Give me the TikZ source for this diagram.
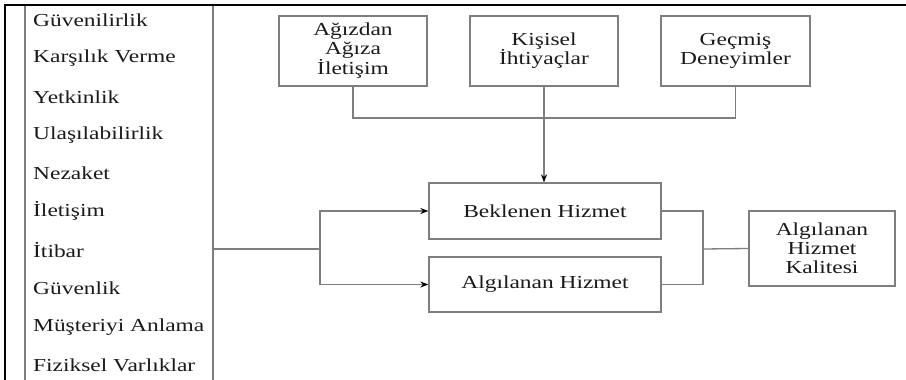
\documentclass[tikz,border=0pt]{standalone}
\usepackage{fontspec}
\setmainfont[FakeStretch=1.28]{Liberation Serif}
\usetikzlibrary{arrows.meta}
\definecolor{linegray}{HTML}{7E7E7E}
\definecolor{txt}{HTML}{1A1A1A}
\begin{document}
\begin{tikzpicture}[x=1pt,y=1pt,
  box/.style={draw=linegray, line width=1.3pt, align=center, text=txt, inner sep=0pt,
    font=\fontsize{18.3}{19}\selectfont},
  item/.style={anchor=west, inner sep=0pt, text=txt, font=\fontsize{18.3}{19}\selectfont},
  conn/.style={draw=linegray, line width=1.3pt},
  arr/.style={conn, -{Stealth[length=8pt,width=6pt,color=black]}},
  frame/.style={draw=black, line width=2.4pt}]
\useasboundingbox (0,0) rectangle (906,-380);
% frame
\draw[frame] (5,-380) -- (5,-5) -- (906,-5);
% list box sides
\draw[conn] (25,-6) -- (25,-380);
\draw[conn] (213,-6) -- (213,-380);
% list items
\node[item] (i1) at (33,-20) {Güvenilirlik};
\node[item] (i2) at (33,-58.5) {Karşılık Verme};
\node[item] (i3) at (33,-97) {Yetkinlik};
\node[item] (i4) at (33,-135) {Ulaşılabilirlik};
\node[item] (i5) at (33,-173) {Nezaket};
\node[item] (i6) at (33,-211) {İletişim};
\node[item] (i7) at (33,-250) {İtibar};
\node[item] (i8) at (33,-288) {Güvenlik};
\node[item] (i9) at (33,-327) {Müşteriyi Anlama};
\node[item] (i10) at (33,-365) {Fiziksel Varlıklar};
% top boxes
\node[box, minimum width=148pt, minimum height=70pt] (agiz) at (353,-51) {Ağızdan\\Ağıza\\İletişim};
\node[box, minimum width=148pt, minimum height=70pt] (kis) at (544,-51) {Kişisel\\İhtiyaçlar};
\node[box, minimum width=149pt, minimum height=70pt] (gec) at (735.5,-51) {Geçmiş\\Deneyimler};
% middle boxes
\node[box, minimum width=232pt, minimum height=56pt] (bek) at (545,-211) {Beklenen Hizmet};
\node[box, minimum width=232pt, minimum height=55pt] (alg) at (545,-284.5) {Algılanan Hizmet};
\node[box, minimum width=146pt, minimum height=75pt] (kal) at (822,-248.5) {Algılanan\\Hizmet\\Kalitesi};
% junctions
\coordinate (lr) at (213,-249);
\coordinate (jl) at (320,-249);
\coordinate (jr) at (703,-249);
\coordinate (jt) at (544,-118);
% connectors top
\draw[conn] (agiz.south) |- (jt);
\draw[conn] (gec.south) |- (jt);
\draw[arr] (kis.south) -- (kis.south |- bek.north);
% left
\draw[conn] (lr) -- (jl);
\draw[arr] (jl) |- (bek.west);
\draw[arr] (jl) |- (alg.west);
% right
\draw[conn] (bek.east) -| (jr);
\draw[conn] (alg.east) -| (jr);
\draw[conn] (jr) -- (kal.west);
\end{tikzpicture}
\end{document}
